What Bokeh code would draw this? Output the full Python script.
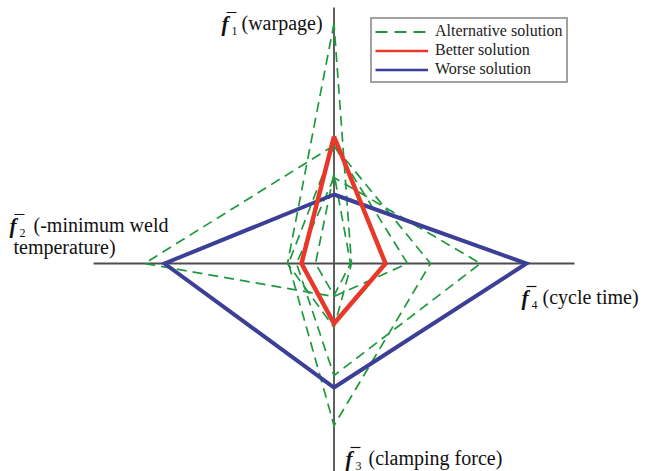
from bokeh.plotting import figure
from bokeh.models import Label, Legend, LegendItem
from bokeh.embed import file_html
from bokeh.resources import INLINE

W, H = 646, 471
CX, CY = 333.5, 263.0      # pixel position of the origin
PX = 100.0                 # pixels per unit on every axis

# Normalised objectives, one value per axis:
# f1 (warpage, up), f2 (-min weld temperature, left),
# f3 (clamping force, down), f4 (cycle time, right)
better = [1.27, 0.325, 0.60, 0.515]
worse = [0.69, 1.695, 1.24, 1.925]
alternatives = [
    [1.18, 1.895, 0.33, 0.735],
    [0.86, 0.375, 1.12, 1.465],
    [2.40, 0.465, 0.64, 0.175],
    [1.18, 0.455, 1.62, 0.965],
    [0.90, 0.185, 0.32, 0.165],
]
axis_extent = {"left": 2.405, "right": 2.405, "up": 2.56, "down": 2.08}

GREEN = "#1e9a3c"
RED = "#e8372b"
BLUE = "#3b3f96"
AXIS = "#4d4d4d"
SERIF = "Liberation Serif"
DASH = "10 6"


def polygon(v):
    f1, f2, f3, f4 = v
    return [0, -f2, 0, f4, 0], [f1, 0, -f3, 0, f1]


def to_data(px, py):
    return (px - CX) / PX, (CY - py) / PX


p = figure(width=W, height=H, output_backend="svg", toolbar_location=None,
           x_range=(-CX / PX, (W - CX) / PX), y_range=((CY - H) / PX, CY / PX),
           min_border=0, outline_line_color=None, background_fill_color="white")
p.xaxis.visible = False
p.yaxis.visible = False
p.xgrid.visible = False
p.ygrid.visible = False

# the four objective axes
p.segment(x0=[-axis_extent["left"], 0], y0=[0, -axis_extent["down"]],
          x1=[axis_extent["right"], 0], y1=[0, axis_extent["up"]],
          line_color=AXIS, line_width=1.8)

for v in alternatives:
    xs, ys = polygon(v)
    p.line(xs, ys, line_color=GREEN, line_width=1.7, line_dash=DASH,
           line_join="miter")

xs, ys = polygon(worse)
p.line(xs, ys, line_color=BLUE, line_width=4, line_join="miter")
xs, ys = polygon(better)
p.line(xs, ys, line_color=RED, line_width=4.5, line_join="miter")

# legend swatches use thinner strokes than the plotted outlines;
# a single-point line draws nothing in the plot area itself
key_alt = p.line([0], [0], line_color=GREEN, line_width=2, line_dash="12 7")
key_better = p.line([0], [0], line_color=RED, line_width=2.5)
key_worse = p.line([0], [0], line_color=BLUE, line_width=2.5)

legend = Legend(items=[
    LegendItem(label="Alternative solution", renderers=[key_alt]),
    LegendItem(label="Better solution", renderers=[key_better]),
    LegendItem(label="Worse solution", renderers=[key_worse]),
], location=(370, H - 83))
legend.label_text_font = SERIF
legend.label_text_font_size = "16px"
legend.label_text_color = "#222222"
legend.label_height = 17
legend.glyph_height = 17
legend.glyph_width = 53
legend.label_standoff = 7
legend.spacing = 1
legend.padding = 3
legend.margin = 0
legend.border_line_color = "#444444"
legend.border_line_width = 2
legend.background_fill_alpha = 1.0
p.add_layout(legend)


def text(x, y, s, size="20px", style="normal"):
    p.add_layout(Label(x=x, y=H - y, x_units="screen", y_units="screen", text=s,
                       text_font=SERIF, text_font_size=size, text_font_style=style,
                       text_color="#111111", text_baseline="middle"))


def objective_label(fx, fy, sub, rest):
    # bold italic f with a bar above it and a numeric subscript
    text(fx, fy, "f", size="21px", style="bold italic")
    text(fx + 10, fy + 7, sub, size="12px")
    x0, y0 = to_data(fx + 5, fy - 11)
    x1, y1 = to_data(fx + 15, fy - 11)
    p.segment(x0=[x0], y0=[y0], x1=[x1], y1=[y1], line_color="#111111", line_width=1.2)
    for dx, dy, s in rest:
        text(fx + dx, fy + dy, s)


objective_label(221, 23, "1", [(20, -1, "(warpage)")])
objective_label(9, 225, "2", [(24, -1, "(-minimum weld"), (4, 21, "temperature)")])
objective_label(521, 297, "4", [(21, -1, "(cycle time)")])
objective_label(345, 458, "3", [(23, -1, "(clamping force)")])

open("out.html", "w").write(file_html(p, INLINE))
